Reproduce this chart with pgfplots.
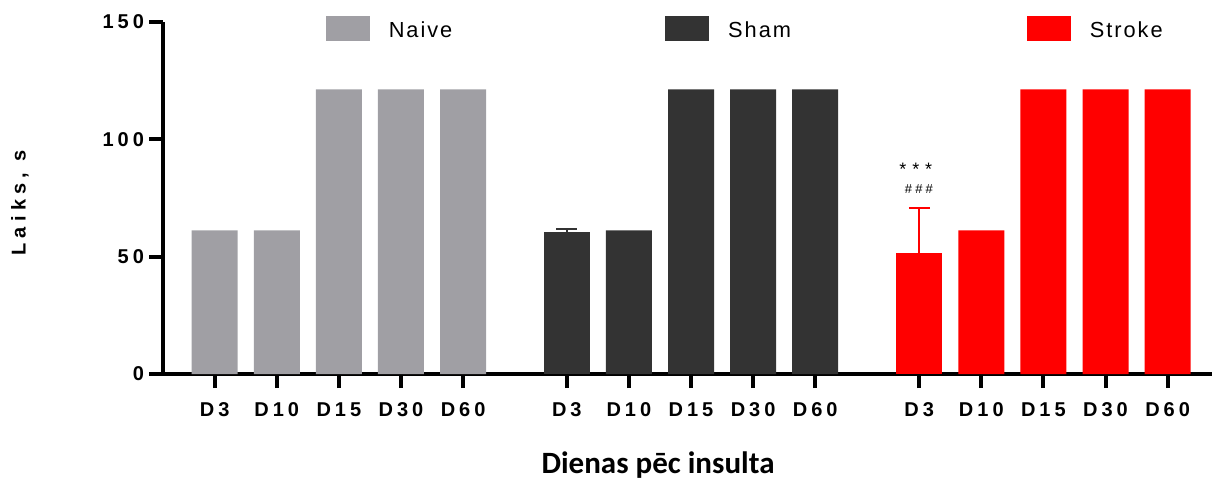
\documentclass[border=0pt]{standalone}
\usepackage{pgfplots}
\pgfplotsset{compat=1.18}
\usepackage{fontspec}
\setmainfont{Liberation Sans}
\newfontfamily\tickfont[LetterSpace=20]{Liberation Sans}
\newfontfamily\ylabfont[LetterSpace=26]{Liberation Sans}
\newfontfamily\legfont[LetterSpace=9]{Liberation Sans}
\newfontfamily\annfont[LetterSpace=24]{Liberation Sans}
\newfontfamily\starfont[LetterSpace=5]{Liberation Sans}
\newfontfamily\calib{Carlito}
\definecolor{naive}{RGB}{160,159,164}
\definecolor{sham}{RGB}{51,51,51}
\definecolor{strokec}{RGB}{255,0,0}
\begin{document}
\begin{tikzpicture}
\begin{axis}[
  at={(81.5pt,54.5pt)}, anchor=south west,
  scale only axis, width=524.5pt, height=176.15pt,
  xmin=-0.8325, xmax=16.06, ymin=0, ymax=150,
  axis x line*=bottom, axis y line*=left,
  axis line style={-, line width=2pt, black},
  ybar, bar width=23pt, bar shift=0pt,
  xtick={0,1,2,3,4,5.67,6.67,7.67,8.67,9.67,11.345,12.345,13.345,14.345,15.345},
  xticklabels={D3,D10,D15,D30,D60,D3,D10,D15,D30,D60,D3,D10,D15,D30,D60},
  ytick={0,50,100,150}, yticklabels={0,50,100,150},
  minor tick num=0,
  tick align=outside, major tick length=7pt,
  tick style={line width=2pt, black},
  xticklabel style={font=\tickfont\bfseries\fontsize{10}{11}\selectfont, anchor=base, yshift=-14pt},
  yticklabel style={font=\tickfont\bfseries\fontsize{10}{11}\selectfont, anchor=east, xshift=1pt},
  ylabel={Laiks, s},
  ylabel style={font=\ylabfont\bfseries\fontsize{10}{11}\selectfont, at={(axis description cs:-0.1363,0.485)}, anchor=center},
  xlabel={Dienas pēc insulta},
  xlabel style={font=\calib\bfseries\fontsize{15.5}{18}\selectfont, at={(axis description cs:0.4719,-0.281)}, anchor=base},
  legend columns=3,
  legend style={draw=none, fill=none, inner sep=0pt, outer sep=0pt,
    at={(0.1554,0.982)}, anchor=west,
    font=\legfont\fontsize{10.9}{12}\selectfont,
    nodes={inner sep=0pt},
    /tikz/every odd column/.append style={column sep=9.5pt},
    /tikz/every even column/.append style={column sep=106.5pt}},
]
\addlegendimage{legend image code/.code={\fill[naive] (0pt,-4.5pt) rectangle (21.5pt,7.5pt);}}
\addlegendentry{Naive}
\addlegendimage{legend image code/.code={\fill[sham] (0pt,-4.5pt) rectangle (21.5pt,7.5pt);}}
\addlegendentry{Sham\kern11.5pt\null}
\addlegendimage{legend image code/.code={\fill[strokec] (0pt,-4.5pt) rectangle (21.5pt,7.5pt);}}
\addlegendentry{Stroke}

\addplot[fill=naive, draw=none, forget plot] coordinates {(0,61.2) (1,61.2) (2,121.2) (3,121.2) (4,121.2)};

\addplot[fill=sham, draw=none, forget plot,
  error bars/.cd, y dir=plus, y explicit,
  error bar style={sham, line width=1pt},
  error mark options={sham, line width=1pt, mark size=5.2pt, rotate=90}]
  coordinates {(5.67,60.3) +- (0,1.3)};
\addplot[fill=sham, draw=none, forget plot] coordinates {(6.67,61.2) (7.67,121.2) (8.67,121.2) (9.67,121.2)};

\addplot[fill=strokec, draw=none, forget plot,
  error bars/.cd, y dir=plus, y explicit,
  error bar style={strokec, line width=1pt},
  error mark options={strokec, line width=1pt, mark size=5.2pt, rotate=90}]
  coordinates {(11.345,51.6) +- (0,18.9)};
\addplot[fill=strokec, draw=none, forget plot] coordinates {(12.345,61.2) (13.345,121.2) (14.345,121.2) (15.345,121.2)};

\node[font=\starfont\fontsize{9}{10}\selectfont] at (axis cs:11.29,87.0) {* * *};
\node[font=\annfont\fontsize{6.5}{7}\selectfont] at (axis cs:11.34,78.8) {\#\#\#};
\end{axis}
\pgfresetboundingbox
\path[use as bounding box] (0,0) rectangle (606.5pt,241.5pt);
\end{tikzpicture}
\end{document}
